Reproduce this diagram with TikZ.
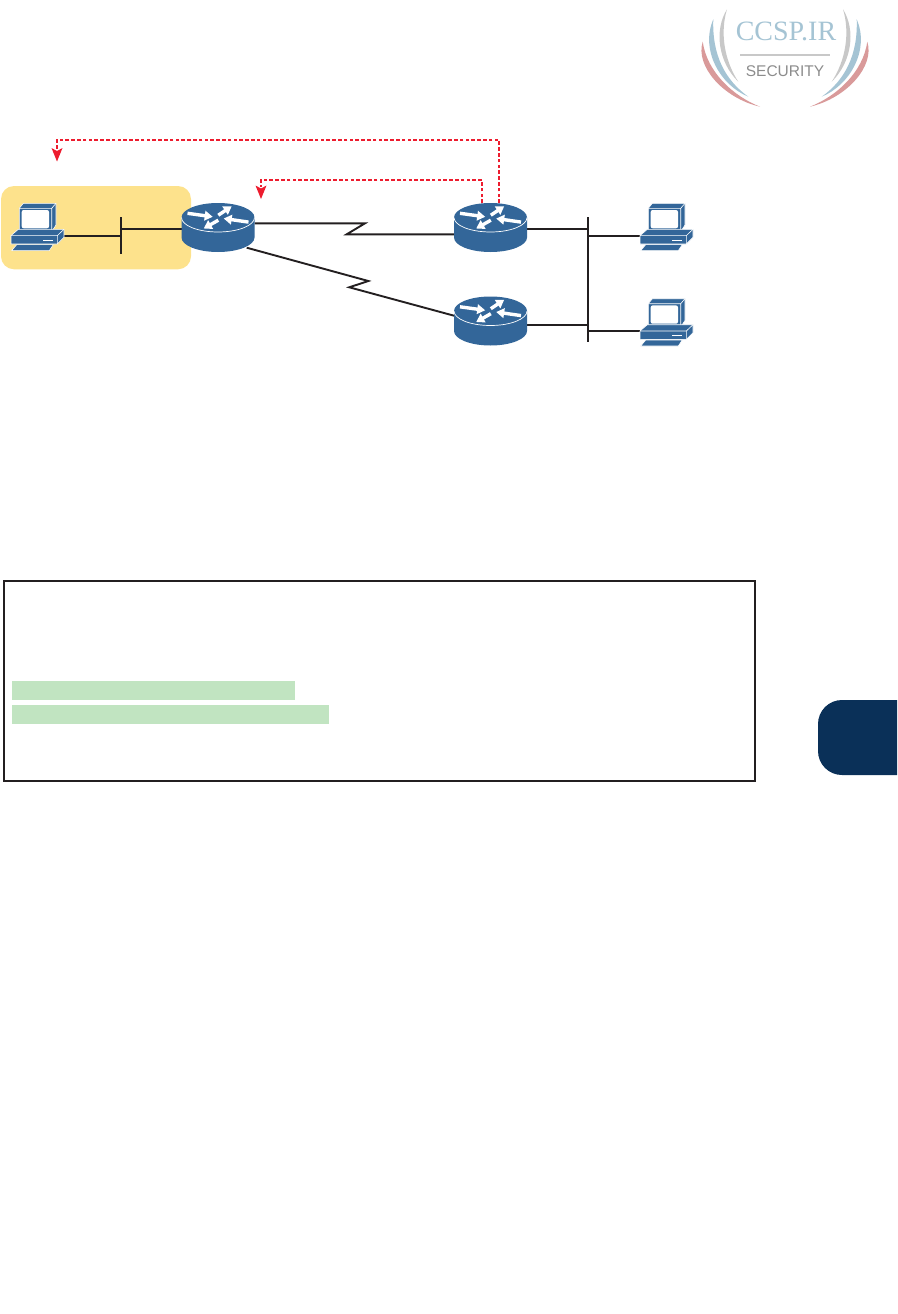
\documentclass[tikz,border=0pt]{standalone}
\usepackage{fontspec}
\setmainfont{Liberation Serif}
\newfontfamily\logosans{Liberation Sans}
\usetikzlibrary{arrows.meta,calc}
\definecolor{routerblue}{HTML}{336699}
\definecolor{zoneyellow}{HTML}{FDE28C}
\definecolor{hlgreen}{HTML}{C1E4C1}
\definecolor{tabnavy}{HTML}{0A3058}
\definecolor{flowred}{HTML}{ED1C2E}
\definecolor{linkblack}{HTML}{231F20}
\definecolor{logoblue}{HTML}{A5C4D4}
\definecolor{logored}{HTML}{D99A9A}
\definecolor{logogray}{HTML}{C8C8C8}
\tikzset{
  x=1pt,y=-1pt,
  link/.style={draw=linkblack,line width=1.9pt},
  flow/.style={draw=flowred,line width=1.6pt,dash pattern=on 3.6pt off 2.2pt},
  flowtip/.style={draw=none,fill=flowred},
  devicebox/.style={draw=none,inner sep=0pt,outer sep=0pt,rectangle},
  routerbox/.style={devicebox,minimum width=73pt,minimum height=49pt},
  pcbox/.style={devicebox,minimum width=53pt,minimum height=47.4pt},
  busbar/.style={devicebox,fill=linkblack,minimum width=2pt},
  rarrow/.style={draw=white,line width=3.4pt,-{Triangle[width=9.5pt,length=8pt]}},
  router/.pic={
    \fill[routerblue] (-36.5,-10) -- (-36.5,10) arc[start angle=180,end angle=0,x radius=36.5,y radius=14.5] -- (36.5,-10) arc[start angle=0,end angle=-180,x radius=36.5,y radius=14.5] -- cycle;
    \draw[white,line width=.7pt] (-36.5,-10) arc[start angle=180,end angle=0,x radius=36.5,y radius=14.5];
    \begin{scope}[shift={(0,-10)}]
      \draw[rarrow] (-30.5,-4.2) -- (-5.3,-.7);
      \draw[rarrow] (.3,2.7) -- (-14.3,11);
      \draw[rarrow] (.3,-2.3) -- (13.7,-11.3);
      \draw[rarrow] (30.5,4.6) -- (5.7,1);
    \end{scope}
  },
  pc/.pic={
    \begin{scope}[shift={(-26.5,-23.7)},draw=white,line width=.6pt,fill=routerblue,line join=round]
      \filldraw (8.3,5) -- (12.3,0) -- (45,0) -- (45,21.7) -- (40.7,28.3) -- (8.3,28.3) -- cycle;
      \draw (8.3,5) -- (40.7,5) -- (45,0) (40.7,5) -- (40.7,28.3);
      \fill[white,rounded corners=2pt] (10.7,6.7) rectangle (38,25);
      \filldraw (0,32.3) -- (7.3,26) -- (53,26) -- (53,34) -- (46.3,40.7) -- (0,40.7) -- cycle;
      \draw (0,32.3) -- (46.3,32.3) -- (53,26) (46.3,32.3) -- (46.3,40.7);
      \draw[line width=.8pt] (32.3,36.7) -- (42.3,36.7);
      \filldraw (.7,47.3) -- (5.7,41.3) -- (42.3,41.3) -- (38.3,47.3) -- cycle;
    \end{scope}
  },
  crescent/.pic={
    \fill[logored] (-82.3,41.7) .. controls (-90,66) and (-62,98) .. (-25,106.7) .. controls (-52,96) and (-78,72) .. (-82.3,41.7) -- cycle;
    \fill[logoblue] (-71.7,19.3) .. controls (-85,50) and (-65,85) .. (-36.7,96.7) .. controls (-60,80) and (-73,55) .. (-71.7,19.3) -- cycle;
    \fill[logogray] (-58,9.3) .. controls (-71,30) and (-67,62) .. (-46.7,81.7) .. controls (-61,60) and (-65,32) .. (-58,9.3) -- cycle;
  },
}
\begin{document}
\begin{tikzpicture}
\useasboundingbox (0,0) rectangle (897,1314);
% logo
\pic at (785,0) {crescent};
\pic[xscale=-1] at (785,0) {crescent};
\node[inner sep=0pt,anchor=base,text=logoblue,font=\fontsize{28}{28}\selectfont] (logotitle) at (786,41) {CCSP.IR};
\fill[logogray] (740,53.6) rectangle (830,56.4);
\node[inner sep=0pt,anchor=base,text=black!45,font=\logosans\fontsize{15.5}{15.5}\selectfont] (logosub) at (785,77) {SECURITY};
% yellow zone
\fill[zoneyellow,rounded corners=13pt] (1,186) rectangle (191,269.3);
% feedback arrow targets
\coordinate (flowa) at (57,161.5);
\coordinate (flowb) at (261,199);
% devices
\node[routerbox] (r1) at (218,227.5) {};
\node[routerbox] (r2) at (490.5,227.5) {};
\node[routerbox] (r3) at (490.5,321) {};
\node[pcbox] (pc1) at (37.5,227) {};
\node[pcbox] (pc2) at (666.5,227) {};
\node[pcbox] (pc3) at (666.5,322.4) {};
\node[busbar,minimum height=37pt] (bar1) at (120.7,235.5) {};
\node[busbar,minimum height=124.7pt] (bar2) at (587.7,279.3) {};
% links
\draw[link] ([yshift=-8.7pt]pc1.east) -- (bar1.west |- 0,235.7);
\draw[link] (bar1.east |- 0,229.3) -- (r1.west |- 0,229.3);
\draw[link] (r2.east |- 0,229.3) -- (bar2.west |- 0,229.3);
\draw[link] (bar2.east |- 0,235.7) -- (pc2.west |- 0,235.7);
\draw[link] (r3.east |- 0,324.7) -- (bar2.west |- 0,324.7);
\draw[link] (bar2.east |- 0,331) -- (pc3.west |- 0,331);
\draw[link] (r1.east |- 0,223.3) -- (365,223.3) -- (346.7,234.3) -- (r2.west |- 0,234.3);
\draw[link] (246.7,247.7) -- (368.3,281) -- (349.3,287.3) -- (r3.west |- 0,315.7);
% flows
\draw[flow] (r2.north -| 499,0) -- (499,140) -- (57,140) -- (57,150);
\fill[flowtip] (flowa) -- (51.5,148) -- (57,151) -- (62.5,148) -- cycle;
\draw[flow] (r2.north -| 482,0) -- (482,180) -- (261,180) -- (261,187);
\fill[flowtip] (flowb) -- (255.5,185.5) -- (261,188.5) -- (266.5,185.5) -- cycle;
% router and pc pictures
\pic at (r1) {router};
\pic at (r2) {router};
\pic at (r3) {router};
\pic at (pc1) {pc};
\pic at (pc2) {pc};
\pic at (pc3) {pc};
% config box
\draw[draw=linkblack,line width=2pt] (3.5,581) rectangle (755,781);
\fill[hlgreen] (12,681) rectangle (295,700);
\fill[hlgreen] (12,705) rectangle (329,724);
% tab
\fill[tabnavy] (897,700) -- (842,700) arc[start angle=270,end angle=180,radius=24] -- (818,751) arc[start angle=180,end angle=90,radius=24] -- (897,775) -- cycle;
\end{tikzpicture}
\end{document}
